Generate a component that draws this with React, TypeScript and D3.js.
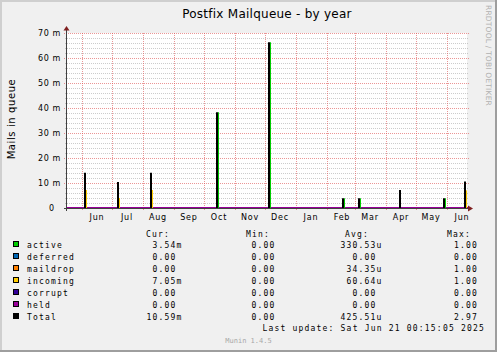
import React from "react";
import * as d3 from "d3";

const W = 497;
const H = 352;
const END = new Date(Date.UTC(2025, 5, 21, 0, 15, 5));
const START = new Date(END.getTime() - 400 * 864e5);

const seriesNames = ["active", "deferred", "maildrop", "incoming", "corrupt", "held", "Total"];
const seriesColors = ["#00CC00", "#0066B3", "#FF8000", "#FFCC00", "#330099", "#990099", "#000000"];

// daily spikes (values in "m" = 1e-3)
const spikeDays = ["2024-06-03", "2024-07-06", "2024-08-08", "2024-10-13", "2024-12-04", "2025-02-16", "2025-03-04", "2025-04-14", "2025-05-28", "2025-06-18"];
const activeValues = [7.05, 3.5, 7.05, 38.3, 66.3, 3.9, 3.9, 0, 3.9, 3.54];
const deferredValues = [0, 0, 0, 0, 0, 0, 0, 0, 0, 0];
const maildropValues = [0, 0, 0, 0, 0, 0, 0, 0, 0, 0];
const incomingValues = [7.2, 4.0, 7.2, 0, 0, 0, 0, 0, 0, 7.05];
const corruptValues = [0, 0, 0, 0, 0, 0, 0, 0, 0, 0];
const heldValues = [0, 0, 0, 0, 0, 0, 0, 0, 0, 0];
const totalValues = [14.1, 10.4, 14.1, 38.3, 66.3, 3.9, 3.9, 7.2, 3.9, 10.6];

const curValues = [3.54e-3, 0, 0, 7.05e-3, 0, 0, 10.59e-3];
const minValues = [0, 0, 0, 0, 0, 0, 0];
const avgValues = [330.53e-6, 0, 34.35e-6, 60.64e-6, 0, 0, 425.51e-6];
const maxValues = [1, 0, 1, 1, 0, 0, 2.97];

const legendHeaders = ["Cur:", "Min:", "Avg:", "Max:"];

function fmt(v: number): string {
  if (v === 0) return "0.00 ";
  const e = Math.max(-2, Math.min(0, Math.floor(Math.log10(Math.abs(v)) / 3)));
  const pre: Record<string, string> = { "-2": "u", "-1": "m", "0": " " };
  return (v / Math.pow(1000, e)).toFixed(2) + pre[String(e)];
}

const SANS = "DejaVu Sans, sans-serif";
const MONO = "DejaVu Sans Mono, monospace";

export default function App() {
  const x = d3.scaleUtc().domain([START, END]).range([67, 467]);
  const y = d3.scaleLinear().domain([0, 0.07]).range([208, 33]);
  const majorY = y.ticks(7);
  const minorY = y.ticks(35).filter((t) => !majorY.some((m) => Math.abs(m - t) < 1e-9));
  const months = d3.utcMonth.range(START, END);
  const labelMonths = months.filter((m) => d3.utcDay.offset(m, 15) <= END);
  const monthFmt = d3.utcFormat("%b");
  const parse = d3.utcParse("%Y-%m-%d");
  const px = (v: number) => Math.round(v) + 0.5;

  const comps = [activeValues, deferredValues, maildropValues, incomingValues, corruptValues, heldValues];
  const cols = [
    { values: curValues, head: 146, right: 182.5 },
    { values: minValues, head: 246, right: 281.5 },
    { values: avgValues, head: 345, right: 382.5 },
    { values: maxValues, head: 447, right: 484 },
  ];
  const [x0, x1] = x.range();
  const y0 = y(0);

  return (
    <svg width={W} height={H} style={{ position: "absolute", left: 0, top: 0 }} xmlns="http://www.w3.org/2000/svg">
      <rect x={0} y={0} width={W} height={H} fill="#F0F0F0" />
      <rect x={0} y={0} width={W} height={2} fill="#CFCFCF" />
      <rect x={0} y={0} width={2} height={H} fill="#CFCFCF" />
      <rect x={0} y={H - 2} width={W} height={2} fill="#9E9E9E" />
      <rect x={W - 2} y={0} width={2} height={H} fill="#9E9E9E" />

      <rect x={x0} y={y(0.07)} width={x1 - x0} height={y0 - y(0.07)} fill="#FFFFFF" />

      {minorY.map((t) => (
        <line key={"mi" + t} x1={x0 - 2} x2={x1 + 2} y1={px(y(t))} y2={px(y(t))} stroke="#8F8F8F" strokeOpacity={0.45} strokeDasharray="1,1" />
      ))}
      {majorY.map((t) => (
        <line key={"ma" + t} x1={x0 - 3} x2={x1 + 2} y1={px(y(t))} y2={px(y(t))} stroke="#DE5050" strokeOpacity={0.6} strokeDasharray="1,1" />
      ))}
      {months.map((m) => (
        <line key={"mv" + m.getTime()} x1={px(x(m))} x2={px(x(m))} y1={y(0.07)} y2={y0 + 3} stroke="#DE5050" strokeOpacity={0.6} strokeDasharray="1,1" />
      ))}

      {/* zero line of series */}
      <line x1={x0} x2={x1 + 1} y1={y0} y2={y0} stroke={seriesColors[5]} strokeWidth={2} />

      {spikeDays.map((d, i) => {
        const xs = Math.round(x(parse(d) as Date));
        return (
          <g key={"sp" + d}>
            {comps.map((arr, j) =>
              arr[i] > 0 ? (
                <rect key={j} x={xs + 2} y={y(arr[i] * 1e-3)} width={1} height={y0 - y(arr[i] * 1e-3)} fill={seriesColors[j]} />
              ) : null
            )}
            <rect x={xs} y={y(totalValues[i] * 1e-3)} width={2} height={y0 - y(totalValues[i] * 1e-3)} fill={seriesColors[6]} />
          </g>
        );
      })}

      {/* axes */}
      <line x1={x0 - 3} x2={x1 + 1} y1={y0 + 0.5} y2={y0 + 0.5} stroke="#404040" />
      <line x1={x0 - 0.5} x2={x0 - 0.5} y1={y0 + 3} y2={30} stroke="#404040" />
      <path d={`M${x0 - 3.5},30.5 L${x0 + 2.5},30.5 L${x0 - 0.5},26 Z`} fill="#7F1F1F" />
      <path d={`M${x1 + 1},${y0 - 2.5} L${x1 + 1},${y0 + 3.5} L${x1 + 6},${y0 + 0.5} Z`} fill="#7F1F1F" />

      {majorY.map((t) => (
        <text key={"yl" + t} x={61} y={y(t) + 3} textAnchor="end" fontFamily={SANS} fontSize={8} letterSpacing={0.6} fill="#000" xmlSpace="preserve" style={{ whiteSpace: "pre" }}>
          {t === 0 ? "0  " : `${Math.round(t * 1000)} m`}
        </text>
      ))}
      {labelMonths.map((m) => (
        <text key={"xl" + m.getTime()} x={x(d3.utcDay.offset(m, 15))} y={220} textAnchor="middle" fontFamily={SANS} fontSize={8} letterSpacing={0.8} fill="#000">
          {monthFmt(m)}
        </text>
      ))}

      <text x={267} y={17.5} textAnchor="middle" fontFamily={SANS} fontSize={12} letterSpacing={0.25} fill="#000">
        Postfix Mailqueue - by year
      </text>
      <text transform="translate(14.5,119) rotate(-90)" textAnchor="middle" fontFamily={SANS} fontSize={10} letterSpacing={0.6} fill="#000">
        Mails in queue
      </text>
      <text transform="translate(486,5) rotate(90)" textAnchor="start" fontFamily={SANS} fontSize={7.5} letterSpacing={0.2} fill="#B0B0B0">
        RRDTOOL / TOBI OETIKER
      </text>

      {legendHeaders.map((h, k) => (
        <text key={"h" + h} x={cols[k].head} y={236.5} fontFamily={MONO} fontSize={8} letterSpacing={1.2} fill="#000">
          {h}
        </text>
      ))}
      {seriesNames.map((n, i) => {
        const by = 248 + i * 12;
        return (
          <g key={"lg" + n}>
            <rect x={13.5} y={by - 6.5} width={5} height={5} fill={seriesColors[i]} stroke="#000" strokeWidth={1} />
            <text x={27} y={by} fontFamily={MONO} fontSize={8} letterSpacing={1.2} fill="#000">
              {n}
            </text>
            {cols.map((c, k) => (
              <text key={k} x={c.right} y={by} textAnchor="end" fontFamily={MONO} fontSize={8} letterSpacing={1.2} fill="#000" xmlSpace="preserve" style={{ whiteSpace: "pre" }}>
                {fmt(c.values[i])}
              </text>
            ))}
          </g>
        );
      })}
      <text x={485} y={331} textAnchor="end" fontFamily={MONO} fontSize={8} letterSpacing={1.2} fill="#000" xmlSpace="preserve" style={{ whiteSpace: "pre" }}>
        Last update: Sat Jun 21 00:15:05 2025
      </text>
      <text x={248.5} y={343} textAnchor="middle" fontFamily={MONO} fontSize={7} fill="#A8A8A8">
        Munin 1.4.5
      </text>
    </svg>
  );
}
